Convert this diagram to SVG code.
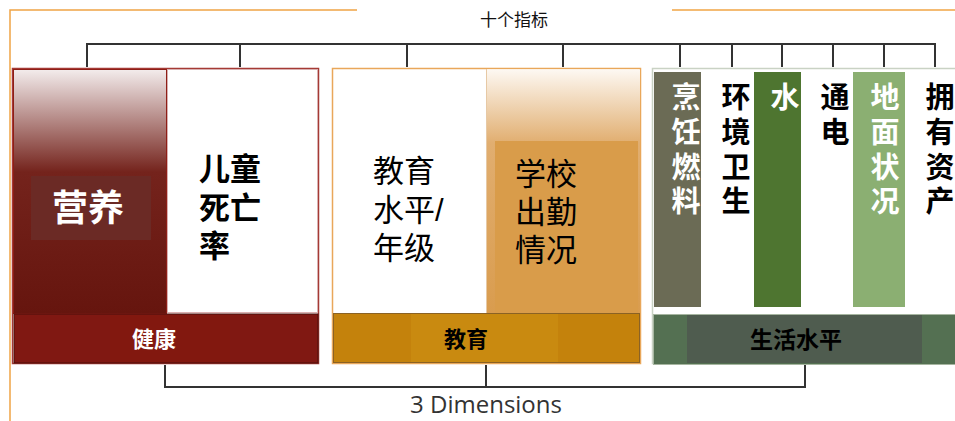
<svg xmlns="http://www.w3.org/2000/svg" width="955" height="421" viewBox="0 0 955 421">
<defs>
<linearGradient id="gRed" x1="0" y1="0" x2="0" y2="1">
<stop offset="0" stop-color="#F3ECEC"/>
<stop offset="0.42" stop-color="#74231C"/>
<stop offset="1" stop-color="#66150E"/>
</linearGradient>
<linearGradient id="gOr" x1="0" y1="0" x2="0" y2="1">
<stop offset="0" stop-color="#FDF8F2"/>
<stop offset="0.3" stop-color="#E1AE70"/>
<stop offset="1" stop-color="#D99C4E"/>
</linearGradient>
<style>
.cn{font-family:"Liberation Sans","Noto Sans CJK SC",sans-serif;}
.b{font-weight:bold;}
.wt{fill:#FFFFFF;}
.bk{fill:#000000;}
.conn{fill:none;stroke:#333333;stroke-width:2;}
.frame{fill:none;stroke:#F0A445;stroke-width:1.5;}
</style>
</defs>
<rect width="955" height="421" fill="#FFFFFF"/>

<g id="frame">
<polyline class="frame" points="357,10 10,10 10,421"/>
<line class="frame" x1="672" y1="10" x2="955" y2="10"/>
</g>

<g id="connectors">
<line class="conn" x1="87" y1="44" x2="935" y2="44"/>
<line class="conn" x1="87" y1="43" x2="87" y2="67"/>
<line class="conn" x1="240" y1="44" x2="240" y2="67"/>
<line class="conn" x1="407" y1="44" x2="407" y2="67"/>
<line class="conn" x1="563" y1="44" x2="563" y2="67"/>
<line class="conn" x1="680" y1="44" x2="680" y2="67"/>
<line class="conn" x1="732" y1="44" x2="732" y2="67"/>
<line class="conn" x1="782" y1="44" x2="782" y2="67"/>
<line class="conn" x1="833" y1="44" x2="833" y2="67"/>
<line class="conn" x1="884" y1="44" x2="884" y2="67"/>
<line class="conn" x1="935" y1="43" x2="935" y2="67"/>
<polyline class="conn" points="165,365 165,387 805,387 805,365"/>
<line class="conn" x1="486" y1="365" x2="486" y2="387"/>
</g>

<g id="title-top">
<text class="cn" x="514" y="26" font-size="17" text-anchor="middle" fill="#111111">十个指标</text>
</g>
<g id="title-bottom">
<text x="486" y="413" font-family="'Open Sans','Liberation Sans',sans-serif" font-size="24" text-anchor="middle" fill="#333333">3 Dimensions</text>
</g>

<g id="health">
<rect x="12.5" y="68.5" width="306" height="295" fill="#FFFFFF" stroke="#A53A35" stroke-width="1.5"/>
<rect x="13.5" y="69.5" width="153" height="244" fill="url(#gRed)" stroke="#8E1E16" stroke-width="1"/>
<rect x="31" y="176" width="120" height="64" fill="#6B2A25"/>
<text class="cn b wt" x="88" y="221" font-size="36" text-anchor="middle">营养</text>
<rect x="167.5" y="69.5" width="150" height="243" fill="#FFFFFF" stroke="#D8B0B0" stroke-width="1"/>
<text class="cn b bk" font-size="31"><tspan x="199" y="180">儿童</tspan><tspan x="199" y="219">死亡</tspan><tspan x="199" y="257">率</tspan></text>
<rect x="14" y="314" width="304" height="49" fill="#801812" stroke="#4A0E0A" stroke-width="1"/>
<rect x="110" y="315" width="120" height="47" fill="#82180F"/>
<text class="cn b wt" x="154" y="347" font-size="22" text-anchor="middle">健康</text>
</g>

<g id="education">
<rect x="332.5" y="68.5" width="308" height="295" fill="#FFFFFF" stroke="#E9A75A" stroke-width="1.5"/>
<rect x="487" y="69.5" width="153" height="244" fill="url(#gOr)"/>
<rect x="495" y="141" width="143" height="172" fill="#D99C4A"/>
<line x1="486.5" y1="69" x2="486.5" y2="313" stroke="#E7C9A5" stroke-width="1"/>
<text class="cn bk" font-size="31"><tspan x="373" y="182">教育</tspan><tspan x="373" y="221">水平/</tspan><tspan x="373" y="259">年级</tspan></text>
<text class="cn bk" font-size="31"><tspan x="515" y="185">学校</tspan><tspan x="515" y="223">出勤</tspan><tspan x="515" y="261">情况</tspan></text>
<rect x="333.5" y="313.5" width="306" height="49" fill="#C4820C" stroke="#8B6224" stroke-width="1"/>
<rect x="411" y="314" width="147" height="48" fill="#C98A10"/>
<text class="cn b bk" x="466" y="347" font-size="22" text-anchor="middle">教育</text>
</g>

<g id="living">
<rect x="652.5" y="68.5" width="310" height="295" fill="#FFFFFF" stroke="#C9D2C4" stroke-width="1.5"/>
<rect x="654" y="72" width="47" height="235" fill="#6B6B55"/>
<rect x="754" y="72" width="47" height="235" fill="#4E7530"/>
<rect x="853" y="72" width="52" height="235" fill="#8BAF72"/>
<text class="cn b wt" font-size="29" text-anchor="middle"><tspan x="686" y="108">烹</tspan><tspan x="686" y="143">饪</tspan><tspan x="686" y="178">燃</tspan><tspan x="686" y="212">料</tspan></text>
<text class="cn b bk" font-size="29" text-anchor="middle"><tspan x="736" y="108">环</tspan><tspan x="736" y="143">境</tspan><tspan x="736" y="178">卫</tspan><tspan x="736" y="212">生</tspan></text>
<text class="cn b wt" font-size="29" text-anchor="middle"><tspan x="785" y="108">水</tspan></text>
<text class="cn b bk" font-size="29" text-anchor="middle"><tspan x="835" y="108">通</tspan><tspan x="835" y="143">电</tspan></text>
<text class="cn b wt" font-size="29" text-anchor="middle"><tspan x="885" y="108">地</tspan><tspan x="885" y="143">面</tspan><tspan x="885" y="178">状</tspan><tspan x="885" y="212">况</tspan></text>
<text class="cn b bk" font-size="29" text-anchor="middle"><tspan x="940" y="108">拥</tspan><tspan x="940" y="143">有</tspan><tspan x="940" y="178">资</tspan><tspan x="940" y="212">产</tspan></text>
<rect x="653.5" y="314.5" width="310" height="50" fill="#547052" stroke="#A6B5A0" stroke-width="1"/>
<rect x="687" y="315" width="235" height="48" fill="#4F5C4F"/>
<text class="cn b bk" x="796" y="348" font-size="23" text-anchor="middle">生活水平</text>
</g>
</svg>
